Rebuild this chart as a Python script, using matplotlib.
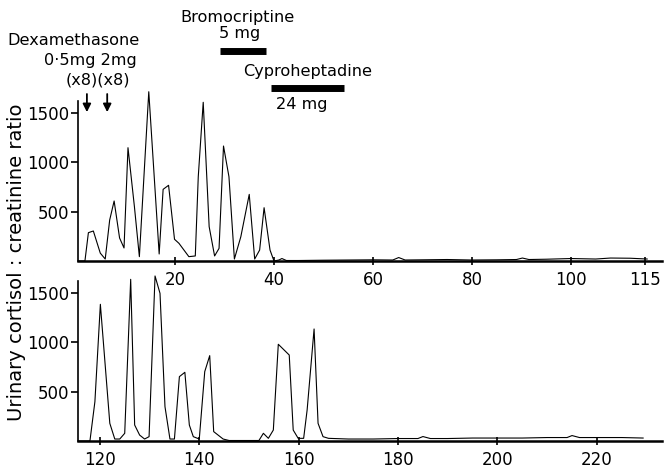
import matplotlib
matplotlib.use("Agg")
import matplotlib.pyplot as plt

# ---- data ----
top_days = [0.4, 1.8, 2.5, 3.5, 4.9, 5.9, 6.8, 7.7, 8.8, 9.7, 10.5, 11.8, 12.8, 14.7,
            16.8, 17.6, 18.7, 19.9, 20.8, 22.8, 24.1, 24.7, 25.7, 26.9, 28.0, 28.9,
            29.8, 30.9, 32.0, 33.3, 35.0, 36.1, 37.1, 38.0, 39.2, 40.0, 41.0, 41.6,
            42.5, 45, 50, 55, 60, 64, 65.2, 66.5, 70, 75, 80, 85, 89, 90.2, 91.5,
            95, 100, 105, 108, 112, 115.4]
top_ratio = [0, 0, 287, 304, 80, 20, 415, 608, 233, 132, 1148, 550, 44, 1715,
             71, 726, 767, 220, 179, 44, 51, 854, 1608, 348, 51, 128,
             1165, 854, 20, 246, 675, 20, 111, 540, 111, 0, 10, 25,
             5, 5, 8, 10, 12, 10, 35, 10, 12, 15, 10, 12, 15, 30, 15,
             18, 25, 20, 30, 28, 20]

bot_days = [115.6, 118, 119, 120.1, 122, 123, 124, 125, 126.2, 127, 128, 129, 129.9,
            131.1, 132.1, 133.1, 134.1, 135, 136, 137.1, 138, 138.8, 140, 141.1,
            142.1, 142.9, 144.8, 146, 152, 152.9, 153.9, 154.9, 155.9, 158.1, 158.9,
            159.9, 161, 161.7, 163.1, 163.9, 164.9, 166, 170, 175, 180, 184, 185,
            186.5, 190, 195, 200, 205, 210, 214, 215, 216.5, 220, 225, 229.3]
bot_ratio = [0, 0, 398, 1385, 179, 20, 20, 78, 1638, 162, 60, 20, 44,
             1672, 1496, 348, 20, 20, 652, 696, 162, 44, 20, 703,
             865, 95, 20, 5, 5, 78, 27, 111, 980, 871, 111,
             27, 27, 314, 1135, 179, 44, 27, 20, 20, 25, 25, 45,
             25, 25, 30, 30, 30, 35, 35, 55, 35, 35, 35, 30]

top_ticks = [20, 40, 60, 80, 100, 115]
bot_ticks = [120, 140, 160, 180, 200, 220]
y_ticks = [500, 1000, 1500]

bromo_span = (29.0, 38.3)
cypro_span = (39.4, 54.2)
dexa_days = [2.2, 6.3]

W, H = 666, 468
plt.rcParams['font.family'] = ['DejaVu Sans']
fig = plt.figure(figsize=(W / 100, H / 100), dpi=100)

ymax = 1750
px_per_unit = 0.0987
ax_h = ymax * px_per_unit / H
ax1 = fig.add_axes([78 / W, 1 - 261 / H, (662 - 78) / W, ax_h])
ax2 = fig.add_axes([78 / W, 1 - 441 / H, (662 - 78) / W, ax_h])

ax1.plot(top_days, top_ratio, color='black', lw=0.8)
ax2.plot(bot_days, bot_ratio, color='black', lw=0.8)

ax1.set_xlim(0.4, 118.4)
ax2.set_xlim(115.6, 233.1)
for ax, ticks in ((ax1, top_ticks), (ax2, bot_ticks)):
    ax.set_ylim(0, ymax)
    ax.set_xticks(ticks)
    ax.set_yticks(y_ticks)
    for s in ('top', 'right'):
        ax.spines[s].set_visible(False)
    ax.spines['bottom'].set_linewidth(1.8)
    ax.spines['left'].set_linewidth(1.2)
    ax.spines['left'].set_bounds(0, 1620)
    ax.tick_params(axis='y', direction='out', length=5, width=1.2, labelsize=12, pad=1)
    ax.tick_params(axis='x', direction='inout', length=6, width=1.2, labelsize=12, pad=4)
    ax.patch.set_alpha(0)

# annotations
fs = 11.6
ax1.text(-0.5, 2239, 'Dexamethasone', ha='center', va='center', fontsize=fs, clip_on=False)
ax1.text(3.0, 2036, '0·5mg 2mg', ha='center', va='center', fontsize=fs, clip_on=False)
ax1.text(4.4, 1834, '(x8)(x8)', ha='center', va='center', fontsize=fs, clip_on=False)
for d in dexa_days:
    ax1.annotate('', xy=(d, 1480), xytext=(d, 1720),
                 arrowprops=dict(arrowstyle='-|>', color='black', lw=1.3,
                                 mutation_scale=12),
                 annotation_clip=False)

ax1.text(32.6, 2472, 'Bromocriptine', ha='center', va='center', fontsize=fs, clip_on=False)
ax1.text(33.0, 2300, '5 mg', ha='center', va='center', fontsize=fs, clip_on=False)
ax1.plot(bromo_span, [2128, 2128], color='black', lw=5, solid_capstyle='butt', clip_on=False)
ax1.text(46.7, 1915, 'Cyproheptadine', ha='center', va='center', fontsize=fs, clip_on=False)
ax1.plot(cypro_span, [1753, 1753], color='black', lw=5, solid_capstyle='butt', clip_on=False)
ax1.text(45.6, 1590, '24 mg', ha='center', va='center', fontsize=fs, clip_on=False)

fig.text(17 / W, 1 - 262 / H, 'Urinary cortisol : creatinine ratio', rotation=90,
         ha='center', va='center', fontsize=14)

fig.savefig('out.png', dpi=100)
